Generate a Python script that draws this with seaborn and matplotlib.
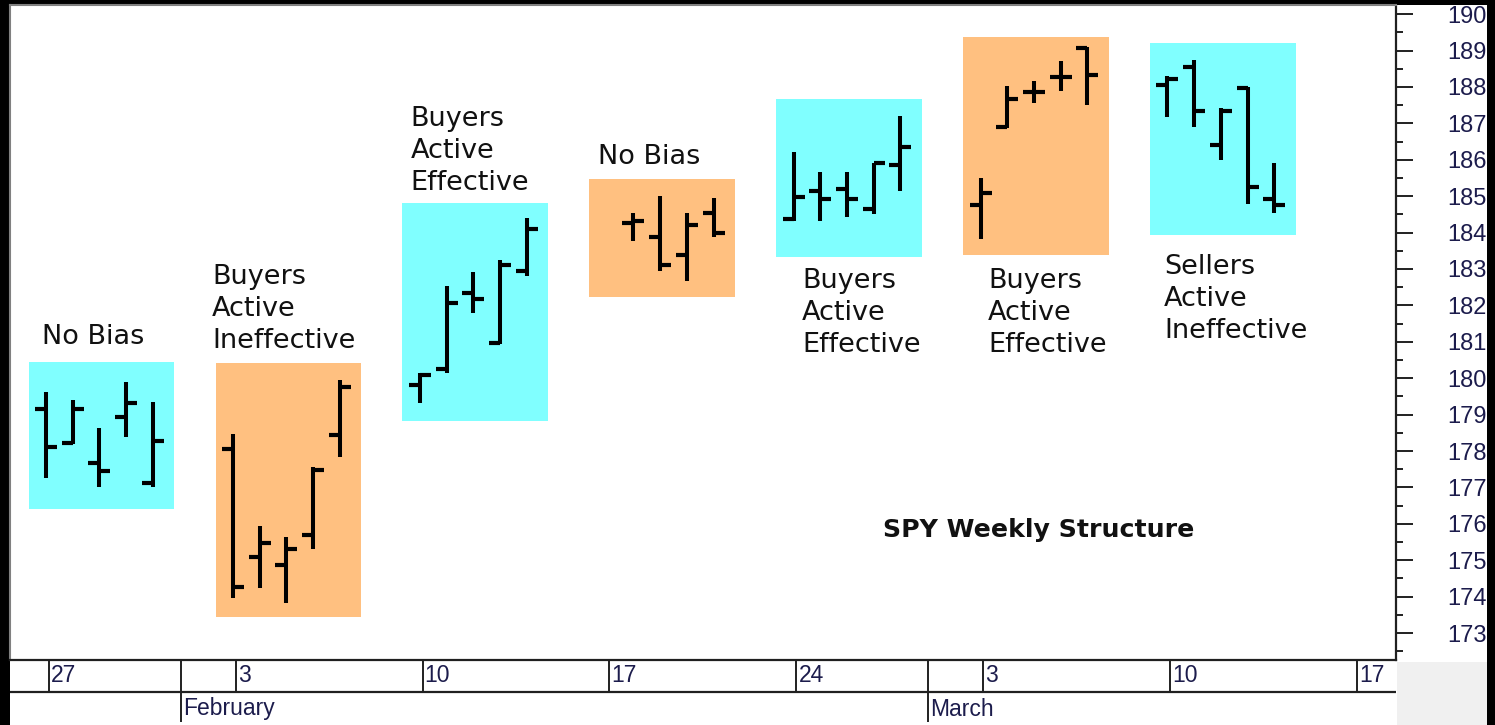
import numpy as np
import pandas as pd
import seaborn as sns
import matplotlib.pyplot as plt
import matplotlib.dates as mdates
from matplotlib.patches import Rectangle

# daily SPY bars
dates = ["2014-01-27", "2014-01-28", "2014-01-29", "2014-01-30", "2014-01-31",
         "2014-02-03", "2014-02-04", "2014-02-05", "2014-02-06", "2014-02-07",
         "2014-02-10", "2014-02-11", "2014-02-12", "2014-02-13", "2014-02-14",
         "2014-02-18", "2014-02-19", "2014-02-20", "2014-02-21",
         "2014-02-24", "2014-02-25", "2014-02-26", "2014-02-27", "2014-02-28",
         "2014-03-03", "2014-03-04", "2014-03-05", "2014-03-06", "2014-03-07",
         "2014-03-10", "2014-03-11", "2014-03-12", "2014-03-13", "2014-03-14"]
opens = [179.15, 178.21, 177.66, 178.93, 177.11,
         178.05, 175.08, 174.87, 175.69, 178.44,
         179.81, 180.24, 182.35, 180.96, 182.95,
         184.27, 183.87, 183.38, 184.53,
         184.37, 185.15, 185.20, 184.65, 185.86,
         184.76, 186.89, 187.85, 188.28, 189.06,
         188.05, 188.56, 186.41, 187.96, 184.91]
highs = [179.63, 179.40, 178.62, 179.90, 179.35,
         178.47, 175.94, 175.65, 177.55, 179.95,
         180.15, 182.53, 182.93, 183.25, 184.39,
         184.55, 185.01, 184.55, 184.94,
         186.22, 185.67, 185.67, 185.92, 187.20,
         185.51, 188.03, 188.15, 188.70, 189.11,
         188.30, 188.74, 187.41, 188.01, 185.90]
lows = [177.25, 178.19, 177.02, 178.39, 177.02,
        173.95, 174.23, 173.83, 175.31, 177.84,
        179.33, 180.15, 181.80, 180.94, 182.81,
        183.78, 182.95, 182.68, 183.89,
        184.33, 184.33, 184.44, 184.51, 185.15,
        183.82, 186.87, 187.57, 187.90, 187.51,
        187.18, 186.91, 185.98, 184.79, 184.55]
closes = [178.10, 179.15, 177.45, 179.33, 178.28,
          174.26, 175.48, 175.30, 177.48, 179.75,
          180.09, 182.06, 182.18, 183.11, 184.09,
          184.32, 183.11, 184.21, 183.98,
          184.97, 184.91, 184.91, 185.90, 186.34,
          185.08, 187.66, 187.85, 188.28, 188.33,
          188.22, 187.35, 187.35, 185.26, 184.76]

# weekly structure boxes
week_starts = ["2014-01-27", "2014-02-03", "2014-02-10", "2014-02-17",
               "2014-02-24", "2014-03-03", "2014-03-10"]
box_low = [176.41, 173.44, 178.82, 182.23, 183.33, 183.38, 183.93]
box_high = [180.45, 180.42, 184.81, 185.47, 187.67, 189.37, 189.21]
box_kind = ["cyan", "orange", "cyan", "orange", "cyan", "orange", "cyan"]
week_labels = ["No Bias", "Buyers\nActive\nIneffective", "Buyers\nActive\nEffective",
               "No Bias", "Buyers\nActive\nEffective", "Buyers\nActive\nEffective",
               "Sellers\nActive\nIneffective"]

date_ticks = ["2014-01-27", "2014-02-03", "2014-02-10", "2014-02-17",
              "2014-02-24", "2014-03-03", "2014-03-10", "2014-03-17"]
months = ["2014-02-01", "2014-03-01"]
month_names = ["February", "March"]

df = pd.DataFrame({"x": mdates.date2num(pd.to_datetime(dates)),
                   "open": opens, "high": highs, "low": lows, "close": closes})

sns.set_theme(style="white")
plt.rcParams["font.family"] = ["DejaVu Sans"]

W, H = 1495, 725
fig = plt.figure(figsize=(W / 100, H / 100), dpi=100, facecolor="black")
fig.add_artist(Rectangle((10 / W, 0), 1477 / W, 720 / H, transform=fig.transFigure,
                         facecolor="white", edgecolor="none", zorder=-5))
fig.add_artist(Rectangle((1397 / W, 0), 90 / W, 63 / H, transform=fig.transFigure,
                         facecolor="#f0f0f0", edgecolor="none", zorder=-4))

ax = fig.add_axes([10 / W, 65 / H, 1386 / W, 655 / H])
x0 = mdates.date2num(pd.Timestamp("2014-01-27"))
ax.set_xlim(x0 - 1.35, x0 + 50.56)
ax.set_ylim(172.26, 190.25)
ax.set_facecolor("white")

colors = {"cyan": "#80ffff", "orange": "#ffc080"}
ws = mdates.date2num(pd.to_datetime(week_starts))
for s, lo, hi, k in zip(ws, box_low, box_high, box_kind):
    ax.add_patch(Rectangle((s - 0.65, lo), 4 + 1.45, hi - lo, facecolor=colors[k],
                           edgecolor="none", zorder=1))

# OHLC bars
ax.vlines(df["x"], df["low"], df["high"], color="black", linewidth=2.9, zorder=3,
          capstyle="butt")
sns.scatterplot(data=df, x="x", y="open", marker=0, s=60, linewidth=3.0,
                color="black", edgecolor="black", ax=ax, zorder=3)
sns.scatterplot(data=df, x="x", y="close", marker=1, s=60, linewidth=3.0,
                color="black", edgecolor="black", ax=ax, zorder=3)

# week labels (left x offset from monday, y of first line)
label_pos = [(-0.15, 181.13), (-0.78, 182.78), (-0.35, 187.12), (-0.34, 186.08),
             (0.31, 182.67), (0.28, 182.67), (-0.12, 183.05)]
for s, (dx, y), txt in zip(ws, label_pos, week_labels):
    for i, line in enumerate(txt.split("\n")):
        ax.annotate(line, (s + dx, y), xytext=(0, -i * 23.0), textcoords="offset points",
                    ha="left", va="center", fontsize=19.5, color="#111111", zorder=4)
ax.text(x0 + 31.35, 175.83, "SPY Weekly Structure", fontsize=18.2, fontweight="bold",
        ha="left", va="center", color="#111111")

ax.set_xlabel("")
ax.set_ylabel("")
ax.set_xticks([])
ax.yaxis.tick_right()
ax.set_yticks(np.arange(173, 191))
ax.set_yticks(np.arange(172.5, 190.5, 1.0), minor=True)
ax.tick_params(axis="y", which="major", direction="out", length=12.2, width=1.4,
               color="#202020", labelsize=17, pad=53.3, labelcolor="#1c1c4c", right=True)
ax.tick_params(axis="y", which="minor", direction="out", length=5, width=1.4,
               color="#202020", right=True)
for lab in ax.get_yticklabels():
    lab.set_ha("right")
    lab.set_family(["Liberation Sans", "DejaVu Sans"])
for side in ["top", "left"]:
    ax.spines[side].set_color("#808080")
    ax.spines[side].set_linewidth(1.5)
for side in ["bottom", "right"]:
    ax.spines[side].set_color("#202020")
    ax.spines[side].set_linewidth(1.6)

# date strip
ax2 = fig.add_axes([10 / W, 3 / H, 1386 / W, 62 / H])
ax2.set_xlim(ax.get_xlim())
ax2.set_ylim(0, 62)
ax2.axis("off")
ax2.axhline(30, color="#202020", linewidth=1.6)
dt = mdates.date2num(pd.to_datetime(date_ticks)) + 0.1
for d, lab in zip(dt, date_ticks):
    ax2.plot([d, d], [30, 62], color="#202020", linewidth=1.4)
    ax2.text(d + 0.08, 46, str(int(lab[-2:])), fontsize=16.5, ha="left", va="center",
             color="#1c1c4c", family=["Liberation Sans", "DejaVu Sans"])
mt = mdates.date2num(pd.to_datetime(months)) + 0.05
for d, name in zip(mt, month_names):
    ax2.plot([d, d], [0, 62], color="#202020", linewidth=1.4)
    ax2.text(d + 0.08, 13, name, fontsize=16.5, ha="left", va="center",
             color="#1c1c4c", family=["Liberation Sans", "DejaVu Sans"])

fig.savefig("out.png", dpi=100, facecolor=fig.get_facecolor())
